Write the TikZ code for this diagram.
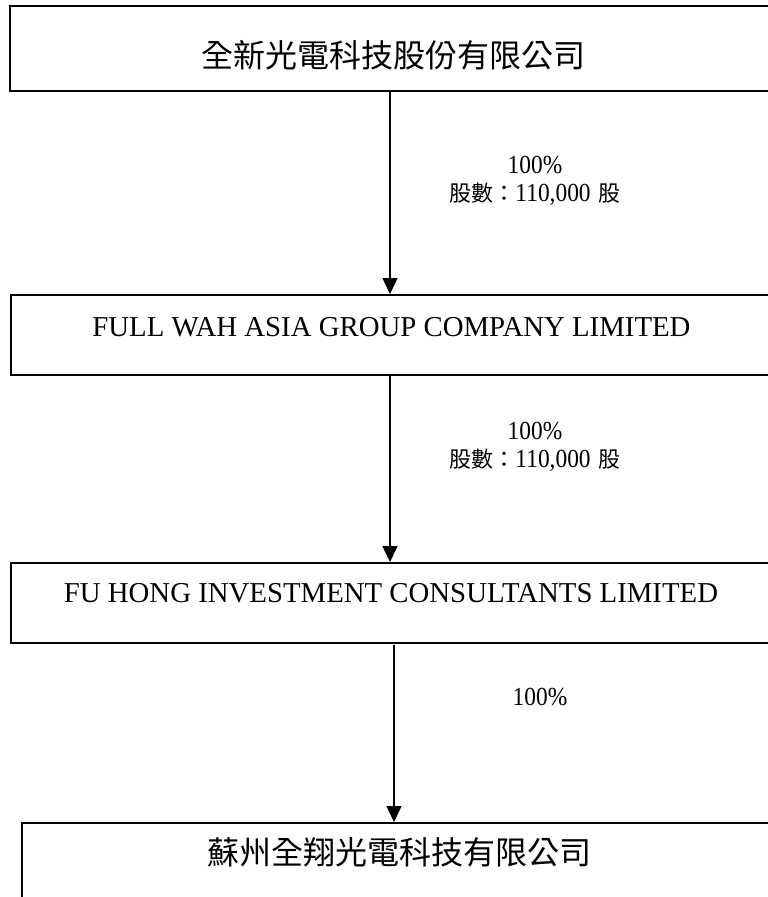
\documentclass[tikz,border=0pt]{standalone}
\usepackage{fontspec}
\setmainfont{Liberation Serif}
\newfontfamily\cjk{Noto Sans CJK TC}
\newfontfamily\pct[FakeStretch=0.9]{Liberation Serif}
\usetikzlibrary{arrows.meta,positioning}

\newcommand\gushu{{\cjk\fontsize{22}{28}\selectfont 股數：}110,000\hspace{2pt} {\cjk\fontsize{22}{28}\selectfont 股}}

\tikzset{
  box/.style={draw, line width=2pt, inner sep=0pt},
  cjktitle/.style={font=\cjk\fontsize{32}{34}\selectfont},
  entitle/.style={font=\fontsize{28.8}{32}\selectfont},
  lbl/.style={font=\pct\fontsize{26}{28}\selectfont, align=center},
  arr/.style={line width=1.5pt, -{Triangle[width=15pt,length=16pt]}},
}

\begin{document}
\begin{tikzpicture}[x=1pt,y=-1pt]
    \useasboundingbox (0,0) rectangle (768,897);
    \clip (0,0) rectangle (768,897);

    \node[box, minimum width=760pt, minimum height=85pt] (QX) at (390,48.5) {};
    \node[box, minimum width=758pt, minimum height=80pt, below=202pt of QX] (FW) {};
    \node[box, minimum width=758pt, minimum height=80pt, below=186pt of FW] (FH) {};
    \node[box, minimum width=780pt, minimum height=120pt, anchor=north west] (SZ) at (21,822) {};

    \node[cjktitle] (QXt) at (393,55) {全新光電科技股份有限公司};
    \node[entitle] (FWt) at (391.5,327.5) {FULL WAH ASIA GROUP COMPANY LIMITED};
    \node[entitle] (FHt) at (391,593) {FU HONG INVESTMENT CONSULTANTS LIMITED};
    \node[cjktitle] (SZt) at (399,852.5) {蘇州全翔光電科技有限公司};

    \draw[arr] (QX) -- (FW);
    \draw[arr] (FW) -- (FH);
    \coordinate (A3) at (394,645);
    \draw[arr] (A3) -- (A3 |- SZ.north);

    \node[lbl] (L1) at (535,181) {100\%\\\gushu};
    \node[lbl] (L2) at (535,447) {100\%\\\gushu};
    \node[lbl] (L3) at (540,697) {100\%};
\end{tikzpicture}
\end{document}
